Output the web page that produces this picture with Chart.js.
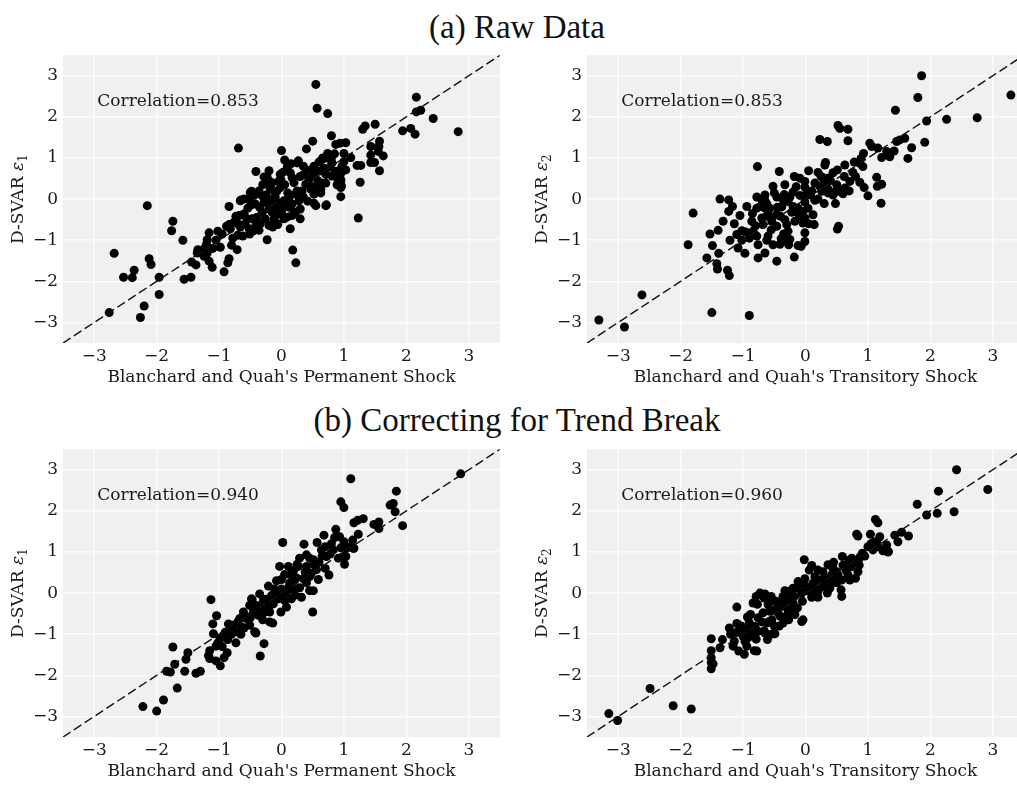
<!DOCTYPE html>
<html>
<head>
<meta charset="utf-8">
<script src="https://cdn.jsdelivr.net/npm/chart.js@4.4.1/dist/chart.umd.min.js"></script>
<style>
  html, body { margin: 0; padding: 0; background: #fff; overflow: hidden; width: 1017px; height: 786px; }
  .panel { position: absolute; }
  .title { position: absolute; left: 0; width: 1034px; text-align: center; font-family: 'Liberation Serif', serif; font-size: 33px; line-height: 33px; color: #111; }
</style>
</head>
<body>
<div class="title" style="top:11px">(a) Raw Data</div>
<div class="title" style="top:404px">(b) Correcting for Trend Break</div>
<canvas id="c1" class="panel" width="505" height="360" style="left:0;top:40px"></canvas>
<canvas id="c2" class="panel" width="505" height="360" style="left:524px;top:40px"></canvas>
<canvas id="c3" class="panel" width="505" height="360" style="left:0;top:434px"></canvas>
<canvas id="c4" class="panel" width="505" height="360" style="left:524px;top:434px"></canvas>
<script>
// ---- dados ----
const tickValues = [-3, -2, -1, 0, 1, 2, 3];
const axisRange = [-3.5, 3.5];
const correlations = ['0.853', '0.853', '0.940', '0.960'];
const xTitles = ["Blanchard and Quah's Permanent Shock", "Blanchard and Quah's Transitory Shock"];

const rawPermanent = [
  [0.55,2.79],[0.57,2.21],[0.74,2.08],[2.16,2.48],[2.16,2.12],[2.23,2.16],[2.43,1.96],[2.83,1.64],[1.94,1.66],[2.07,1.72],
  [2.14,1.58],[1.50,1.82],[1.34,1.78],[1.30,1.70],[1.57,1.41],[1.56,1.28],[1.43,1.28],[1.55,1.16],[1.63,1.05],[1.43,1.07],
  [1.43,0.89],[1.49,0.89],[1.57,0.69],[1.21,0.82],[1.27,0.82],[1.26,0.41],[1.23,-0.46],[0.80,1.54],[0.87,1.33],[0.94,1.36],
  [1.03,1.37],[0.50,1.41],[0.40,1.22],[0.0,1.18],[-0.69,1.24],[0.74,1.11],[0.66,1.0],[0.80,1.0],[1.0,1.11],[1.11,1.01],
  [1.0,0.91],[1.03,0.71],[0.95,0.63],[0.87,0.67],[0.95,0.47],[0.96,0.32],[0.89,0.35],[0.95,0.06],[0.72,-0.14],[0.52,-0.10],
  [0.63,0.15],[0.71,0.39],[0.64,0.39],[0.27,0.93],[0.15,0.86],[0.10,0.82],[-0.20,0.69],[-0.28,0.54],[-0.41,0.67],[-0.01,0.47],
  [0.02,0.65],[-0.18,0.31],[-0.48,0.19],[-0.44,0.09],[-0.65,-0.02],[-0.60,0.0],[-0.84,-0.18],[-0.54,-0.22],[-0.62,-0.38],[-0.73,-0.42],
  [-0.88,-0.66],[-0.84,-0.62],[-1.02,-0.78],[-1.16,-0.82],[-1.19,-0.99],[-1.20,-1.09],[-1.23,-1.19],[-1.34,-1.23],[-1.35,-1.31],[-1.19,-1.31],
  [-1.24,-1.39],[-1.16,-1.51],[-1.11,-1.66],[-1.44,-1.53],[-1.37,-1.60],[-0.98,-1.17],[-0.92,-1.77],[-0.86,-1.55],[-0.84,-1.45],[-0.71,-1.23],
  [-0.80,-1.12],[-0.78,-0.95],[-0.70,-0.88],[-0.62,-0.90],[-0.51,-0.85],[-0.46,-0.78],[-0.36,-0.76],[-0.41,-0.64],[-0.23,-0.99],[-0.14,-0.68],
  [-0.06,-0.62],[-0.12,-0.54],[0.14,-0.72],[0.30,-0.48],[0.18,-1.24],[0.23,-1.55],[-1.56,-1.95],[-1.45,-1.90],[-1.58,-1.00],[-1.74,-0.54],
  [-1.76,-0.77],[-2.15,-0.16],[-2.68,-1.32],[-2.53,-1.90],[-2.39,-1.91],[-2.36,-1.73],[-2.12,-1.45],[-2.09,-1.59],[-1.96,-1.90],[-1.96,-2.32],
  [-2.20,-2.60],[-2.26,-2.88],[-2.76,-2.76],
  [-0.23,0.54],[-0.20,0.44],[-0.04,0.44],[-0.02,0.60],[0.09,0.76],[0.25,0.88],[0.14,0.64],[0.17,0.52],[-0.15,0.40],[-0.18,0.24],
  [-0.07,0.20],[-0.02,0.28],[-0.36,0.20],[-0.31,0.08],[-0.50,0.16],[-0.52,0.0],[-0.66,-0.04],[-0.50,-0.16],[-0.42,-0.12],[-0.68,-0.40],
  [-0.60,-0.36],[-0.55,-0.48],[-0.47,-0.48],[-0.76,-0.56],[-0.82,-0.72],[-0.66,-0.68],[-0.52,-0.72],[-0.34,-0.60],[-0.26,-0.48],[-0.31,-0.32],
  [-0.28,-0.08],[-0.20,0.0],[-0.15,-0.12],[-0.10,0.04],[-0.07,-0.24],[0.01,-0.16],[0.04,-0.04],[-0.04,-0.36],[-0.12,-0.48],[-0.07,-0.60],
  [-0.20,-0.64],[0.12,0.04],[0.17,-0.12],[0.22,0.12],[0.28,-0.04],[0.30,-0.24],[0.22,-0.32],[0.09,-0.44],[0.39,0.36],[0.44,0.48],
  [0.52,0.60],[0.60,0.68],[0.36,0.60],[0.52,0.80],[0.65,0.96],[0.73,1.0],[0.81,0.88],[0.71,0.60],[0.81,0.56],[0.89,0.68],
  [0.97,0.80],[0.95,0.44],[0.95,0.28],[0.52,0.12],[0.55,0.28],[0.63,0.24],[0.47,0.24],[0.33,0.20],[0.71,-0.16],[0.55,-0.16],
  [-0.20,-0.24],[-0.15,-0.32],[0.04,-0.48],[0.17,-0.40],
  [0.05,0.35],[0.10,0.15],[0.20,0.40],[0.30,0.55],[0.35,0.05],[0.42,-0.05],[0.45,0.70],[0.58,0.45],[0.60,0.90],[0.68,0.75],
  [0.78,0.78],[0.85,1.10],[0.90,0.50],[-0.05,-0.10],[-0.10,0.15],[-0.25,0.10],[-0.35,-0.20],[-0.40,-0.45],[-0.58,-0.60],[-0.70,-0.60],
  [-0.95,-0.85],[-1.05,-1.00],[-1.10,-1.20],[0.0,-0.30],[0.12,-0.20],[0.25,0.20],[-0.30,0.35],[0.05,0.95],[0.35,0.80],[0.50,0.30]
];

const rawTransitory = [
  [1.86,3.0],[1.80,2.47],[3.29,2.53],[1.44,2.16],[1.94,1.90],[2.26,1.94],[2.75,1.98],[1.91,1.38],[1.70,1.25],[1.64,0.99],
  [1.46,1.40],[1.51,1.44],[1.59,1.48],[1.42,1.17],[1.30,1.16],[1.35,1.03],[1.22,1.01],[1.16,1.24],[1.06,1.28],[1.03,1.36],
  [0.93,1.11],[0.89,0.99],[0.87,0.87],[0.92,0.79],[0.52,1.79],[0.55,1.72],[0.68,1.70],[0.68,1.42],[0.23,1.45],[0.35,1.40],
  [0.32,0.89],[0.63,0.83],[0.51,0.71],[0.76,0.65],[0.71,0.43],[0.63,0.27],[0.87,0.41],[0.94,0.28],[1.0,0.08],[1.14,0.53],
  [1.15,0.31],[1.22,0.36],[1.21,-0.10],[0.53,-0.66],[0.51,-0.73],[0.48,-0.11],[0.30,-0.11],[-0.77,0.79],[-0.42,0.67],[-0.33,0.35],
  [-0.52,0.31],[-0.50,0.15],[-0.18,0.55],[-0.09,0.51],[-0.01,0.43],[0.05,0.69],[0.20,0.65],[0.35,0.51],[0.15,0.39],[0.23,0.31],
  [0.26,0.19],[0.36,0.15],[0.44,0.10],[0.55,0.19],[-1.37,0.0],[-1.23,-0.02],[-1.17,-0.18],[-1.23,-0.30],[-1.80,-0.34],[-0.94,-0.18],
  [-0.78,0.05],[-0.70,-0.02],[-0.78,-0.22],[-0.65,-0.22],[-0.57,-0.22],[-0.86,-0.54],[-0.70,-0.46],[-0.62,-0.42],[-0.54,-0.46],[-0.46,-0.38],
  [-0.34,0.11],[-0.28,-0.06],[-0.20,-0.18],[-0.12,-0.22],[-0.04,-0.30],[0.04,-0.22],[0.12,-0.38],[0.14,-0.62],[-0.33,-0.50],[-0.30,-0.62],
  [-0.17,-0.54],[-0.01,-0.46],[-0.04,-0.58],[-1.32,-0.54],[-1.40,-0.76],[-1.53,-0.85],[-1.14,-0.60],[-1.02,-0.77],[-0.96,-0.80],[-1.10,-0.86],
  [-1.21,-1.00],[-1.02,-1.00],[-0.84,-0.78],[-0.78,-0.90],[-0.76,-1.11],[-0.62,-1.0],[-0.52,-1.11],[-0.39,-0.96],[-0.30,-1.01],[-0.27,-1.11],
  [-0.28,-0.78],[-0.12,-1.13],[-0.01,-1.03],[-0.01,-0.82],[-1.88,-1.11],[-1.49,-1.13],[-1.39,-1.32],[-1.58,-1.43],[-1.42,-1.57],[-1.41,-1.70],
  [-1.25,-1.73],[-1.22,-1.86],[-1.08,-1.19],[-0.97,-1.32],[-0.76,-1.43],[-0.65,-1.31],[-0.46,-1.51],[-0.18,-1.41],[-0.07,-1.15],[-2.62,-2.33],
  [-3.31,-2.94],[-2.90,-3.11],[-1.50,-2.76],[-0.90,-2.83],
  [0.31,0.83],[0.44,0.64],[-0.20,0.17],[-0.09,0.09],[-0.01,0.29],[0.36,0.25],[0.47,0.17],[0.60,0.13],[-0.65,-0.03],[-0.46,0.05],
  [-0.60,-0.34],[-0.38,-0.19],[-0.01,-0.07],[0.15,-0.03],[-0.68,-0.62],[-0.54,-0.54],[-0.46,-0.66],[-0.25,-0.98],[-0.41,-1.10],
  [-0.62,-0.12],[-0.40,-0.42],[-0.22,-0.32],[-0.72,-0.18],[0.08,0.10],[0.30,0.42],[0.62,0.55],[0.80,0.55],
  [-0.85,-0.35],[-0.80,-0.65],[-0.55,-0.75],[-0.45,-0.20],[-0.35,-0.05],[-0.25,0.05],[-0.15,0.30],[-0.10,-0.40],[0.0,0.10],[0.10,0.20],
  [0.20,0.0],[0.25,0.55],[0.40,0.45],[0.50,0.35],[0.70,0.20],[0.78,0.90],[-0.60,-0.90],[-0.90,-0.95],[-0.35,-0.85],[0.05,-0.60],
  [-1.05,-0.40],[-0.65,0.10]
];

const trendPermanent = [
  [1.11,2.78],[2.87,2.90],[1.84,2.48],[1.74,2.14],[1.79,2.18],[1.82,1.98],[1.94,1.64],[1.48,1.67],[1.56,1.73],[1.56,1.57],
  [0.95,2.22],[1.00,2.08],[1.16,1.71],[1.22,1.77],[1.31,1.81],[0.87,1.55],[0.85,1.35],[0.93,1.37],[1.23,1.43],[1.14,1.29],
  [1.16,1.09],[1.11,1.13],[1.01,0.70],[1.03,0.89],[0.76,0.44],[0.68,1.41],[0.57,1.23],[0.36,1.19],[0.02,1.23],[0.50,-0.46],
  [-1.13,-0.16],[-1.04,-0.55],[-1.10,-0.75],[-1.09,-0.99],[-1.74,-1.31],[-1.50,-1.45],[-1.53,-1.61],[-1.71,-1.73],[-1.84,-1.90],[-1.78,-1.92],
  [-1.55,-1.90],[-1.37,-1.95],[-1.30,-1.90],[-1.67,-2.31],[-1.89,-2.60],[-2.22,-2.76],[-2.00,-2.87],[-1.17,-1.52],[-1.15,-1.59],[-1.05,-1.65],
  [-0.98,-1.77],[-0.87,-1.45],[-0.92,-1.57],[-1.05,-1.29],[-1.02,-1.21],[-0.73,-1.21],[-0.86,-1.13],[-0.92,-1.01],[-0.34,-1.53],[-0.28,-1.23],
  [-0.41,-0.97],[-0.47,-0.16],[0.51,0.06],[-0.14,-0.73],[-0.01,-0.46],[-0.30,-0.65],
  [0.64,1.05],[0.70,1.13],[0.72,0.89],[0.83,1.05],[0.91,0.85],[0.99,0.89],[1.04,1.09],[1.15,1.09],[0.29,0.85],[0.40,0.93],
  [0.51,0.81],[-0.03,0.65],[0.11,0.65],[0.19,0.53],[0.27,0.65],[0.40,0.65],[0.48,0.49],[0.56,0.57],[0.59,0.33],[0.0,0.33],
  [0.13,0.25],[0.24,0.37],[0.29,0.13],[0.40,0.25],[0.45,0.06],[0.32,-0.10],[-0.21,0.17],[-0.11,0.10],[-0.03,0.06],[0.08,0.02],
  [0.19,0.10],[-0.16,-0.06],[-0.05,-0.14],[0.05,-0.18],[0.16,-0.14],[-0.35,-0.02],[-0.29,-0.18],[-0.40,-0.30],[-0.24,-0.30],[-0.13,-0.26],
  [0.08,-0.34],[-0.51,-0.30],[-0.45,-0.46],[-0.61,-0.46],[-0.56,-0.62],[-0.37,-0.54],[-0.19,-0.70],[-0.67,-0.62],[-0.78,-0.78],[-0.64,-0.82],
  [-0.83,-0.86],[-0.51,-0.78],[-0.43,-0.94],[-0.72,-0.94],[-0.48,-0.14],[-0.19,-0.46],
  [-0.90,-0.95],[-0.85,-0.75],[-0.70,-0.70],[-0.58,-0.55],[-0.50,-0.60],[-0.40,-0.40],[-0.32,-0.38],[-0.25,-0.15],[-0.20,-0.35],[-0.10,-0.05],
  [0.0,0.10],[0.03,-0.05],[0.12,0.15],[0.20,0.30],[0.22,-0.05],[0.35,0.35],[0.38,0.50],[0.45,0.40],[0.52,0.70],[0.60,0.75],
  [0.65,0.90],[0.78,0.95],[0.80,1.20],[0.95,1.10],[1.00,1.25],[0.15,0.45],[-0.08,0.30],[0.05,0.45],[-0.30,-0.50],[-0.65,-1.00],
  [-0.95,-1.30],[-0.98,-1.10],[-1.15,-1.40],[-0.80,-1.00],[-0.60,-0.85],[0.25,0.70],[0.45,0.85],[0.70,0.60]
];

const trendTransitory = [
  [2.42,3.0],[2.92,2.52],[2.13,2.48],[1.79,2.16],[1.94,1.90],[2.11,1.94],[2.38,1.98],[1.65,1.39],[1.48,1.25],[1.54,1.48],
  [1.43,1.41],[1.33,1.01],[1.12,1.79],[1.16,1.71],[0.82,1.43],[0.84,1.39],[1.04,1.43],[1.19,1.37],[1.14,1.25],[1.30,1.17],
  [1.16,1.13],[1.24,1.03],[1.08,1.05],[1.0,1.13],[0.91,0.97],[0.85,0.81],[0.87,0.87],[0.74,0.85],[0.59,0.89],[0.84,0.52],
  [0.80,0.36],[0.71,0.32],[0.58,0.32],[0.57,0.08],[0.58,-0.08],[-0.02,0.81],[0.10,0.67],[0.36,0.69],[0.44,0.60],[0.50,0.52],
  [0.52,0.44],[0.42,0.44],[0.31,0.36],[0.23,0.32],[-0.12,0.28],[-0.01,0.35],[-0.20,0.12],[-0.33,0.06],[-0.06,0.0],[0.10,-0.10],
  [0.20,-0.10],[0.31,0.16],[0.39,0.12],[-0.73,0.0],[-0.65,-0.02],[-0.77,-0.27],[-1.10,-0.34],[-0.88,-0.52],[-0.93,-0.58],[-0.57,-0.20],
  [-0.44,-0.24],[-0.49,-0.40],[-0.36,-0.32],[-0.28,-0.40],[-0.20,-0.24],[-0.13,-0.36],[-0.06,-0.69],[-0.04,-0.65],[-0.76,-0.60],[-0.62,-0.73],
  [-0.54,-0.65],[-0.41,-0.56],[-0.36,-0.73],[-0.27,-0.65],[-0.17,-0.52],[-1.22,-0.85],[-1.10,-0.74],[-1.02,-0.85],[-0.92,-0.89],[-0.81,-0.81],
  [-0.76,-0.93],[-0.92,-1.09],[-0.97,-1.17],[-0.84,-1.01],[-0.65,-0.97],[-0.61,-1.13],[-0.49,-0.99],[-0.78,-1.41],[-1.51,-1.11],[-1.33,-1.13],
  [-1.37,-1.33],[-1.14,-1.17],[-1.16,-1.29],[-1.07,-1.41],[-0.98,-1.49],[-0.94,-1.29],[-1.51,-1.40],[-1.51,-1.57],[-1.51,-1.69],[-1.48,-1.72],
  [-1.51,-1.84],[-2.49,-2.32],[-3.15,-2.93],[-3.01,-3.10],[-2.12,-2.74],[-1.83,-2.82],
  [1.10,1.24],[0.81,0.76],[0.86,0.68],[1.32,1.00],[0.70,0.80],[0.60,0.68],[0.73,0.64],[0.68,0.44],[0.41,0.40],[0.28,0.52],
  [0.20,0.56],[0.33,0.28],[0.41,0.24],[0.06,0.56],[-0.10,0.20],[0.01,0.16],[0.12,0.24],[0.20,0.04],[-0.15,0.12],[-0.18,-0.08],
  [-0.26,0.04],[-0.36,-0.08],[-0.39,-0.20],[-0.66,-0.12],[-0.55,-0.08],[-0.47,-0.20],[-0.60,-0.28],[-0.31,-0.20],[-0.18,-0.44],[-0.44,-0.48],
  [-0.58,-0.44],[-0.68,-0.48],[-0.84,-0.24],[-0.79,-0.08],[-0.90,-0.72],[-0.66,-0.92],[-0.55,-1.00],[-0.42,-0.80],[-0.79,-1.12],[-0.97,-1.00],
  [-1.11,-0.96],[-0.82,-1.40],[-1.03,-0.80],
  [-0.30,-0.55],[-0.05,-0.20],[0.05,0.05],[0.15,0.40],[0.25,0.15],[0.35,0.0],[0.50,0.25],[0.65,0.55],[0.45,0.75],[-0.50,-0.80],
  [-0.70,-0.70],[-0.85,-0.90],[-1.00,-1.05],[-1.20,-1.00],[-0.25,-0.10],[0.15,0.10],[0.95,0.90],[1.05,1.20]
];

// ---- estilo ----
const serif = '"DejaVu Serif", serif';
const textColor = '#1a1a1a';
const panelBg = '#f0f0f0';

const fmtTick = v => (v < 0 ? '\u2212' + Math.abs(v) : String(v));

// fundo cinza da área do gráfico
const areaBg = {
  id: 'areaBg',
  beforeDraw(chart) {
    const { ctx, chartArea: a } = chart;
    ctx.save();
    ctx.fillStyle = panelBg;
    ctx.fillRect(a.left, a.top, a.right - a.left, a.bottom - a.top);
    ctx.restore();
  }
};

// títulos dos eixos + texto de correlação
const panelText = {
  id: 'panelText',
  afterDraw(chart, args, opts) {
    const { ctx, chartArea: a, scales } = chart;
    ctx.save();
    ctx.fillStyle = textColor;

    // correlação
    ctx.font = '17px ' + serif;
    ctx.textAlign = 'left';
    ctx.textBaseline = 'middle';
    ctx.fillText('Correlation=' + opts.corr, scales.x.getPixelForValue(-2.95), scales.y.getPixelForValue(2.38));

    // título eixo x
    ctx.textAlign = 'center';
    ctx.fillText(opts.xTitle, (a.left + a.right) / 2, a.bottom + 35);

    // título eixo y: D-SVAR ε_n
    ctx.translate(19, (a.top + a.bottom) / 2);
    ctx.rotate(-Math.PI / 2);
    const fBase = '17px ' + serif, fEps = 'italic 17px ' + serif, fSub = '12px ' + serif;
    ctx.font = fBase; const w1 = ctx.measureText('D-SVAR ').width;
    ctx.font = fEps; const w2 = ctx.measureText('\u03b5').width;
    ctx.font = fSub; const w3 = ctx.measureText(opts.sub).width;
    let x = -(w1 + w2 + w3) / 2;
    ctx.textAlign = 'left';
    ctx.font = fBase; ctx.fillText('D-SVAR ', x, 0); x += w1;
    ctx.font = fEps; ctx.fillText('\u03b5', x, 0); x += w2;
    ctx.font = fSub; ctx.fillText(opts.sub, x, 5);
    ctx.restore();
  }
};

function axisOpts(isX) {
  return {
    type: 'linear',
    min: axisRange[0],
    max: axisRange[1],
    afterBuildTicks: s => { s.ticks = tickValues.map(v => ({ value: v })); },
    afterFit: s => { if (isX) s.height = 57; else s.width = 63; },
    grid: { color: '#fbfbfb', lineWidth: 1.5, drawTicks: false },
    border: { display: false },
    ticks: {
      padding: isX ? 3 : 5,
      color: textColor,
      font: { family: serif, size: 17 },
      callback: fmtTick,
      maxRotation: 0
    }
  };
}

function desenharPainel(id, pontos, corr, xTitle, sub) {
  new Chart(document.getElementById(id), {
    type: 'scatter',
    data: {
      datasets: [
        {
          data: pontos.map(p => ({ x: p[0], y: p[1] })),
          backgroundColor: '#000',
          borderWidth: 0,
          pointRadius: 4.5,
          order: 2
        },
        {
          type: 'line',
          data: [{ x: axisRange[0], y: axisRange[0] }, { x: axisRange[1], y: axisRange[1] }],
          borderColor: '#111',
          borderWidth: 1.4,
          borderDash: [9, 4],
          pointRadius: 0,
          fill: false,
          order: 1
        }
      ]
    },
    options: {
      responsive: false,
      animation: false,
      devicePixelRatio: 1,
      layout: { padding: { left: 0, right: 5, top: 13, bottom: 0 } },
      plugins: {
        legend: { display: false },
        tooltip: { enabled: false },
        panelText: { corr: corr, xTitle: xTitle, sub: sub }
      },
      scales: { x: axisOpts(true), y: axisOpts(false) }
    },
    plugins: [areaBg, panelText]
  });
}

desenharPainel('c1', rawPermanent, correlations[0], xTitles[0], '1');
desenharPainel('c2', rawTransitory, correlations[1], xTitles[1], '2');
desenharPainel('c3', trendPermanent, correlations[2], xTitles[0], '1');
desenharPainel('c4', trendTransitory, correlations[3], xTitles[1], '2');
</script>
</body>
</html>
